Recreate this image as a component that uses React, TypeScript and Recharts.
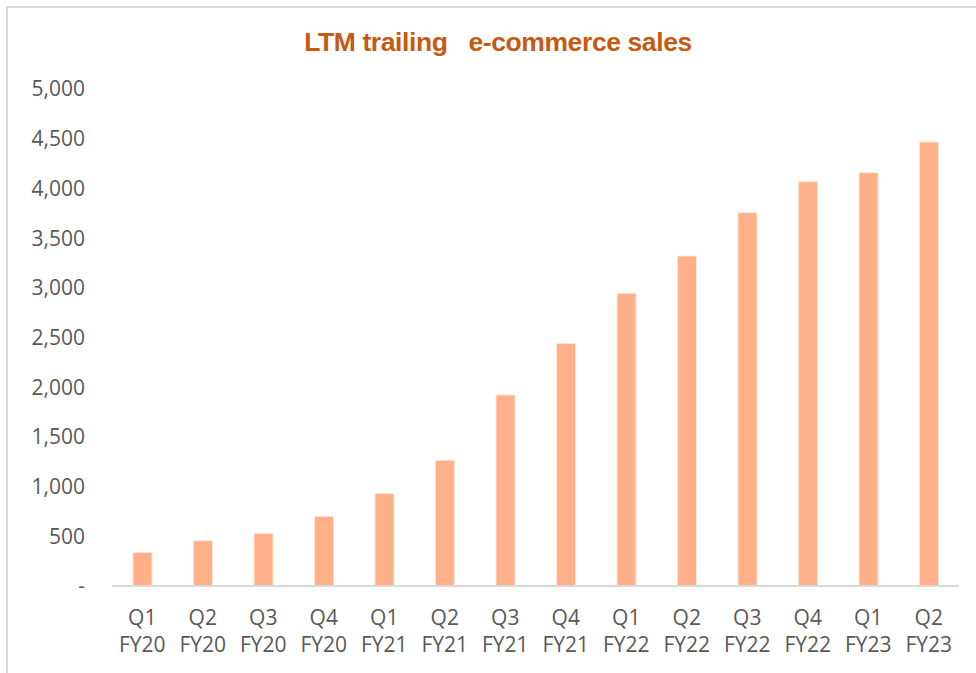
import React from "react";
import { BarChart, Bar, XAxis, YAxis } from "recharts";

const quarters = ["Q1", "Q2", "Q3", "Q4", "Q1", "Q2", "Q3", "Q4", "Q1", "Q2", "Q3", "Q4", "Q1", "Q2"];
const fiscalYears = ["FY20", "FY20", "FY20", "FY20", "FY21", "FY21", "FY21", "FY21", "FY22", "FY22", "FY22", "FY22", "FY23", "FY23"];
const sales = [336, 455, 530, 700, 930, 1265, 1922, 2440, 2945, 3320, 3756, 4067, 4158, 4467];
const yTicks = [0, 500, 1000, 1500, 2000, 2500, 3000, 3500, 4000, 4500, 5000];

const data = sales.map((v, i) => ({
  key: `${quarters[i]}|${fiscalYears[i]}`,
  q: quarters[i],
  fy: fiscalYears[i],
  sales: v,
}));

const FONT = "'Open Sans', 'Liberation Sans', sans-serif";

const XTick = (props: any) => {
  const { x, y, payload } = props;
  const [q, fy] = String(payload.value).split("|");
  return (
    <text x={x} y={y} textAnchor="middle" fill="#595959" fontFamily={FONT} fontSize={21}>
      <tspan x={x} dy={39}>{q}</tspan>
      <tspan x={x} dy={27}>{fy}</tspan>
    </text>
  );
};

const fmt = (v: number) => (v === 0 ? "-  " : v.toLocaleString("en-US"));

export default function App() {
  return (
    <div
      style={{
        position: "absolute",
        left: 0,
        top: 0,
        width: 976,
        height: 673,
        overflow: "hidden",
        background: "#fff",
      }}
    >
      <div
        style={{
          position: "absolute",
          left: 6,
          top: 6,
          width: 1000,
          height: 700,
          border: "2px solid #d9d9d9",
          boxSizing: "border-box",
        }}
      />
      <div
        style={{
          position: "absolute",
          left: 0,
          width: 996,
          top: 27,
          textAlign: "center",
          fontFamily: "'Liberation Sans', Arial, sans-serif",
          fontWeight: "bold",
          fontSize: 26.5,
          letterSpacing: -0.4,
          color: "#C55A11",
          whiteSpace: "pre",
        }}
      >
        {"LTM trailing   e-commerce sales"}
      </div>
      <div style={{ position: "absolute", left: 0, top: 0 }}>
        <BarChart
          width={976}
          height={673}
          data={data}
          margin={{ top: 89, right: 17, bottom: 27, left: 12 }}
        >
          <YAxis
            width={100}
            domain={[0, 5000]}
            ticks={yTicks}
            tickFormatter={fmt}
            axisLine={false}
            tickLine={false}
            tickSize={0}
            tickMargin={27}
            interval={0}
            tick={{ fill: "#595959", fontFamily: FONT, fontSize: 21 }}
          />
          <XAxis
            dataKey="key"
            height={60}
            interval={0}
            tickLine={false}
            tickSize={0}
            tickMargin={0}
            axisLine={{ stroke: "#d9d9d9", strokeWidth: 2 }}
            tick={<XTick />}
          />
          <Bar
            dataKey="sales"
            fill="#FFB088"
            stroke="#FFE6D8"
            strokeWidth={1}
            barSize={19}
            isAnimationActive={false}
          />
        </BarChart>
      </div>
    </div>
  );
}
